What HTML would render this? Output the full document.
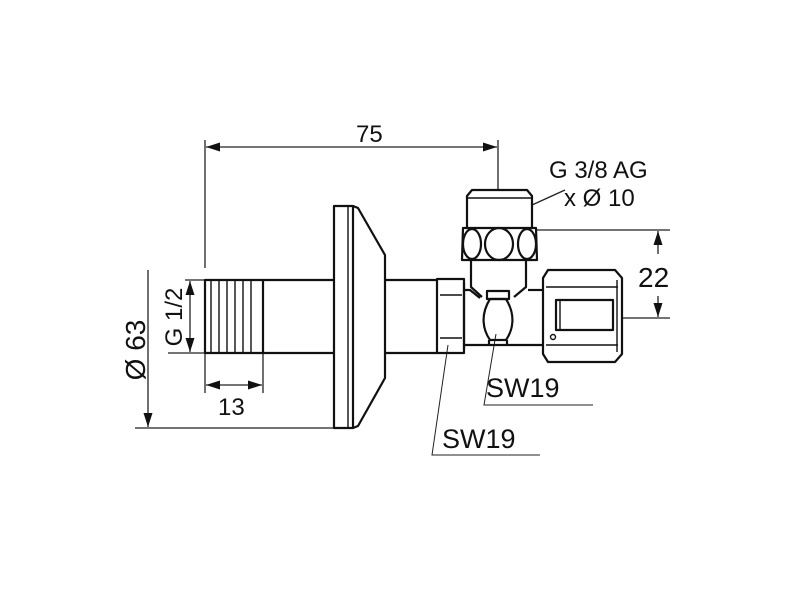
<!DOCTYPE html>
<html><head><meta charset="utf-8"><style>
html,body{margin:0;padding:0;background:#fff;}
svg{display:block;}
text{font-family:"Liberation Sans",sans-serif;fill:#111;}
</style></head><body>
<svg width="800" height="600" viewBox="0 0 800 600" xmlns="http://www.w3.org/2000/svg">
<defs>
<marker id="a" viewBox="0 0 14 10" refX="14" refY="5" markerWidth="14" markerHeight="10" orient="auto-start-reverse" markerUnits="userSpaceOnUse"><path d="M0,0.5 L14,5 L0,9.5 z" fill="#111"/></marker>
</defs>
<g stroke="#222" stroke-width="1.3" fill="none">
<line x1="205" y1="140" x2="205" y2="268"/>
<line x1="498" y1="140" x2="498" y2="190"/>
<line x1="206" y1="147" x2="497" y2="147" marker-start="url(#a)" marker-end="url(#a)"/>
<line x1="148" y1="270" x2="148" y2="427" marker-end="url(#a)"/>
<line x1="135" y1="428" x2="334" y2="428"/>
<line x1="185" y1="280" x2="205" y2="280"/>
<line x1="168" y1="353" x2="205" y2="353"/>
<line x1="190" y1="281" x2="190" y2="352" marker-start="url(#a)" marker-end="url(#a)"/>
<line x1="205" y1="353" x2="205" y2="393"/>
<line x1="263" y1="353" x2="263" y2="393"/>
<line x1="206" y1="385" x2="262" y2="385" marker-start="url(#a)" marker-end="url(#a)"/>
<line x1="537" y1="230" x2="670" y2="230"/>
<line x1="622" y1="318" x2="670" y2="318"/>
<line x1="658" y1="231" x2="658" y2="254" marker-start="url(#a)"/>
<line x1="658" y1="296" x2="658" y2="317" marker-end="url(#a)"/>
<line x1="532" y1="205" x2="565" y2="190"/>
<polyline points="496,334 484,405 593,405" stroke-width="1"/>
<polyline points="448,345 432,455 540,455" stroke-width="1"/>
</g>
<g stroke="#111" stroke-width="2.2" fill="none" stroke-linejoin="round">
<rect x="205" y="280" width="58" height="73"/>
<g stroke-width="1.4"><line x1="211" y1="280" x2="211" y2="353"/><line x1="219" y1="280" x2="219" y2="353"/><line x1="227" y1="280" x2="227" y2="353"/><line x1="235" y1="280" x2="235" y2="353"/><line x1="243" y1="280" x2="243" y2="353"/><line x1="251" y1="280" x2="251" y2="353"/></g>
<polyline points="263,280 334,280"/><polyline points="263,353 334,353"/>
<rect x="334" y="206" width="19" height="222"/>
<line x1="348" y1="206" x2="348" y2="428" stroke-width="1.4"/>
<polyline points="353,206 358,208 385,255 385,378 358,426 353,428"/>
<polyline points="385,280 437,280"/><polyline points="385,353 437,353"/>
<rect x="437" y="279" width="27" height="74"/>
<line x1="440" y1="295" x2="462" y2="295" stroke-width="1.4"/>
<line x1="440" y1="338" x2="462" y2="338" stroke-width="1.4"/>
<line x1="464" y1="283" x2="464" y2="349"/>
<polyline points="465,290 470,290 480,298"/><polyline points="465,345 543,345"/>
<polyline points="528,290 543,290"/>
<polyline points="471,260 471,287 482,297"/><polyline points="526,260 526,287 514,297"/>
<path d="M463,228 L536,228 L537,260 L462,260 Z"/>
<ellipse cx="472" cy="244" rx="9" ry="15"/>
<ellipse cx="499" cy="244" rx="14" ry="16"/>
<ellipse cx="527" cy="244" rx="9" ry="15"/>
<path d="M467,227 L467,196 L472,190 L527,190 L532,196 L532,227"/>
<line x1="467" y1="198" x2="532" y2="198" stroke-width="1.4"/>
<rect x="487" y="291" width="22" height="8"/>
<path d="M490,299 C480,315 483,330 490,340 L506,340 C513,330 516,315 506,299 Z"/>
<line x1="489" y1="340" x2="489" y2="345"/><line x1="507" y1="340" x2="507" y2="345"/>
<path d="M543,278 L548,270 L615,270 L622,278 L622,354 L615,362 L548,362 L543,354 Z"/>
<line x1="546" y1="287" x2="618" y2="287" stroke-width="1.4"/>
<line x1="546" y1="345" x2="618" y2="345" stroke-width="1.4"/>
<rect x="556" y="300" width="57" height="30"/>
<line x1="560" y1="300" x2="560" y2="330" stroke-width="1.4"/>
<line x1="617" y1="280" x2="617" y2="352" stroke-width="1.4"/>
<circle cx="553" cy="337" r="2.5" stroke-width="1.4"/>
</g>
<g font-size="24">
<text x="356" y="142">75</text>
<text x="549" y="178">G 3/8 AG</text>
<text x="564" y="206">x Ø 10</text>
<text x="638" y="287" font-size="28">22</text>
<text x="218" y="415">13</text>
<text x="486" y="397" font-size="27">SW19</text>
<text x="442" y="448" font-size="27">SW19</text>
<text transform="translate(182,317) rotate(-90)" text-anchor="middle">G 1/2</text>
<text transform="translate(145,350) rotate(-90)" text-anchor="middle" font-size="28">Ø 63</text>
</g>
</svg>
</body></html>
